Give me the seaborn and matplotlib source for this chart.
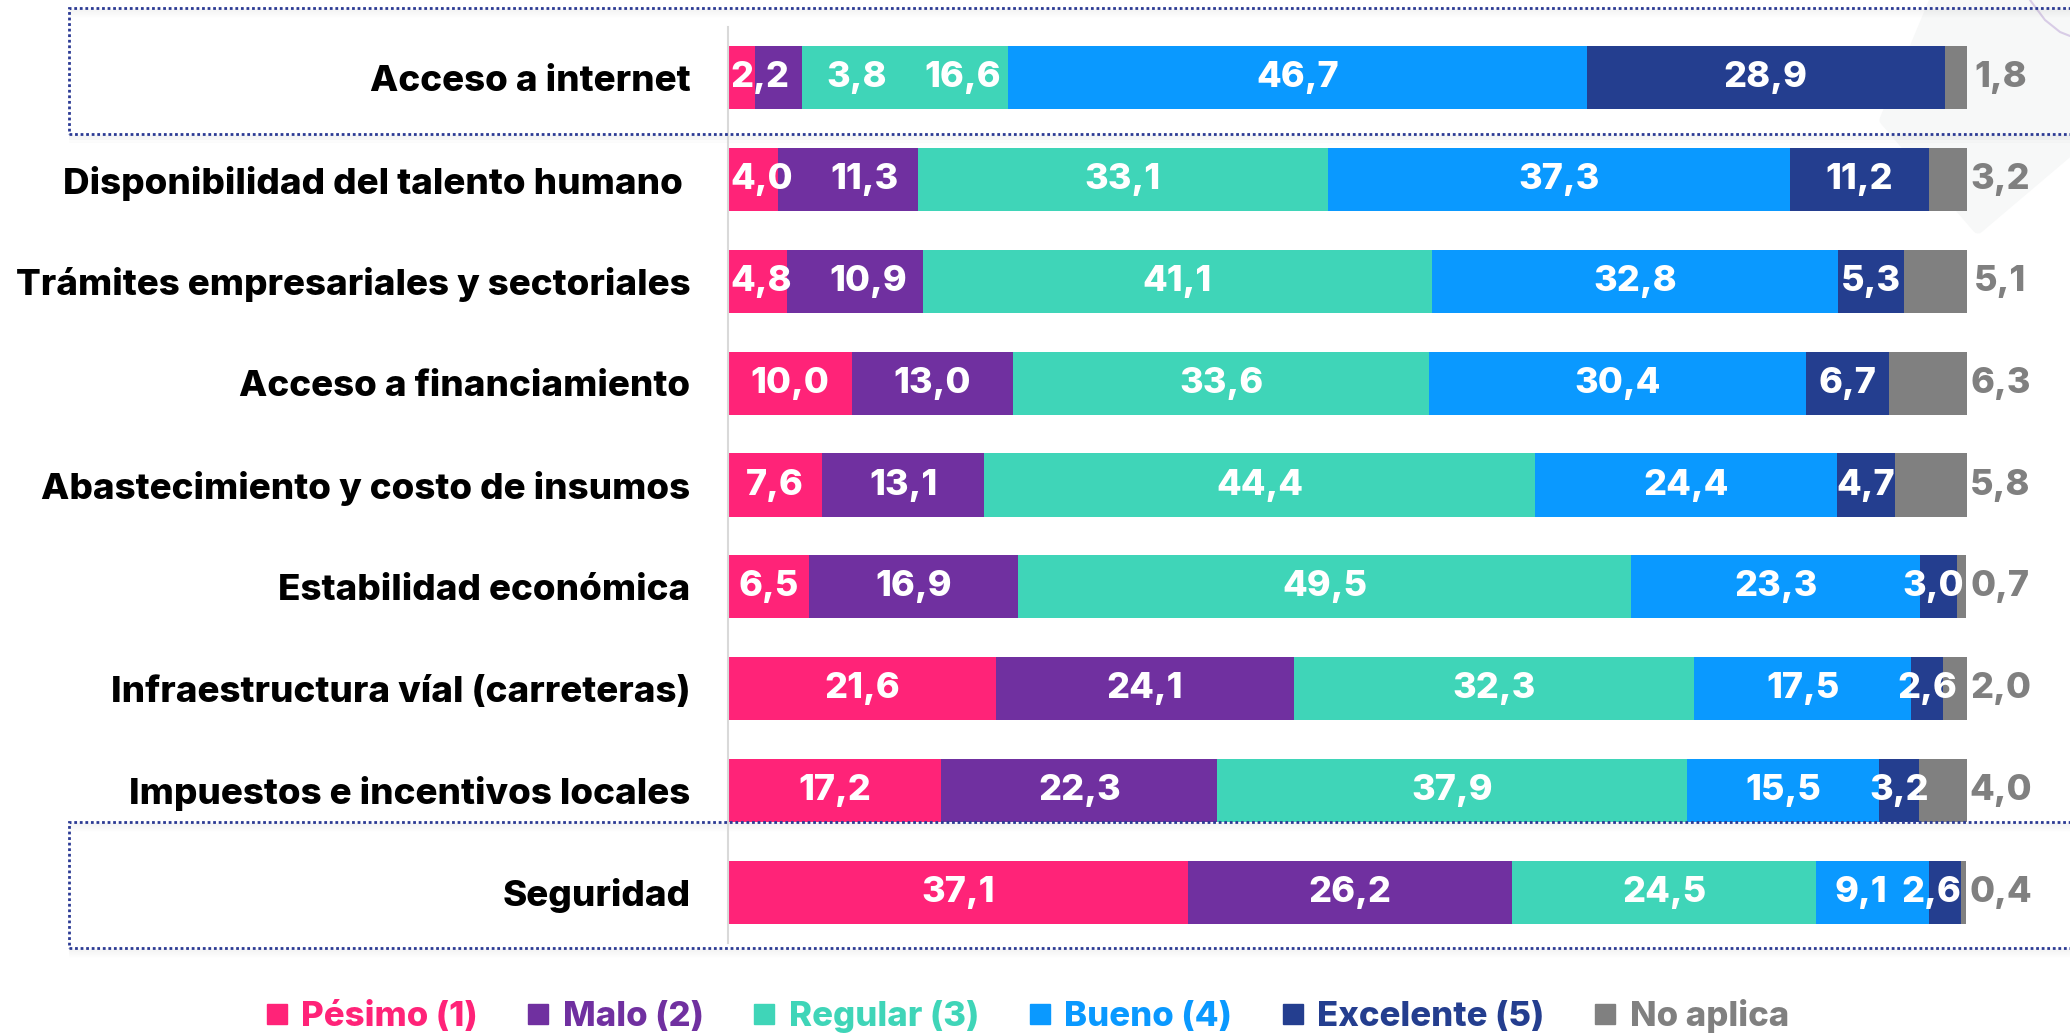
import numpy as np
import pandas as pd
import matplotlib
matplotlib.use('Agg')
import matplotlib.pyplot as plt
import seaborn as sns
from matplotlib.lines import Line2D
from matplotlib.patches import Rectangle, Polygon

# datos (porcentajes por categoria, de arriba hacia abajo)
categorias = ['Acceso a internet',
              'Disponibilidad del talento humano ',
              'Trámites empresariales y sectoriales',
              'Acceso a financiamiento',
              'Abastecimiento y costo de insumos',
              'Estabilidad económica',
              'Infraestructura víal (carreteras)',
              'Impuestos e incentivos locales',
              'Seguridad']
pesimo = [2.2, 4.0, 4.8, 10.0, 7.6, 6.5, 21.6, 17.2, 37.1]
malo = [3.8, 11.3, 10.9, 13.0, 13.1, 16.9, 24.1, 22.3, 26.2]
regular = [16.6, 33.1, 41.1, 33.6, 44.4, 49.5, 32.3, 37.9, 24.5]
bueno = [46.7, 37.3, 32.8, 30.4, 24.4, 23.3, 17.5, 15.5, 9.1]
excelente = [28.9, 11.2, 5.3, 6.7, 4.7, 3.0, 2.6, 3.2, 2.6]
no_aplica = [1.8, 3.2, 5.1, 6.3, 5.8, 0.7, 2.0, 4.0, 0.4]
series = ['Pésimo (1)', 'Malo (2)', 'Regular (3)', 'Bueno (4)', 'Excelente (5)', 'No aplica']
colores = ['#FF2378', '#7030A0', '#3FD5B8', '#0A99FF', '#243E8F', '#808080']
resaltadas = ['Acceso a internet', 'Seguridad']

FUENTE = 'Inter'

sns.set_style('white')
plt.rcParams['font.family'] = [FUENTE, 'DejaVu Sans']

vals = np.array([pesimo, malo, regular, bueno, excelente, no_aplica]).T
cum = np.cumsum(vals, axis=1)

fig = plt.figure(figsize=(20.7, 10.33), dpi=100)
W, H = 2070, 1033

# adorno gris claro arriba a la derecha
fig.patches.append(Polygon([(1935 / W, 1.0), (1885 / W, 1 - 120 / H), (1978 / W, 1 - 228 / H),
                            (1.0, 1 - 150 / H), (1.0, 1.0)], closed=True,
                           transform=fig.transFigure, facecolor='#f7f8f8', edgecolor='#f7f8f8',
                           linewidth=8, joinstyle='round', zorder=-5))
fig.add_artist(Line2D([2030 / W, 2045 / W, 2060 / W, 1.0],
                      [1.0, 1 - 20 / H, 1 - 32 / H, 1 - 36 / H],
                      color='#d8cce6', linewidth=1.5, zorder=-4))

ax = fig.add_axes([728 / W, 1 - 943 / H, (1967 - 728) / W, (943 - 27) / H])
ax.patch.set_alpha(0)

# barras apiladas: se dibujan los acumulados de mayor a menor
for k in range(5, -1, -1):
    sns.barplot(x=cum[:, k], y=categorias, color=colores[k], orient='h',
                width=0.62, saturation=1, linewidth=0, ax=ax)

ax.set_xlim(0, 100)
ax.set_ylim(len(categorias) - 0.5, -0.5)
ax.set_xticks([])
ax.set_xlabel('')
ax.set_ylabel('')
for s in ['top', 'right', 'bottom']:
    ax.spines[s].set_visible(False)
ax.spines['left'].set_color('#d9d9d9')
ax.spines['left'].set_linewidth(1.5)
ax.tick_params(axis='y', length=0, pad=27)
ax.set_yticks(range(len(categorias)))
ax.set_yticklabels(categorias, fontsize=26.5, fontweight='heavy', color='black')

# etiquetas de valores
fmt = lambda v: f'{v:.1f}'.replace('.', ',')
x_fuera = 102.7
filas = []
for i in range(len(categorias)):
    textos = []
    for k in range(5):
        c = cum[i, k] - vals[i, k] / 2
        t = ax.text(c, i, fmt(vals[i, k]), ha='center', va='center', color='white',
                    fontsize=26, fontweight='heavy', zorder=5, clip_on=False)
        textos.append(t)
    g = ax.text(x_fuera, i, fmt(vals[i, 5]), ha='center', va='center', color='#808080',
                fontsize=26, fontweight='heavy', zorder=5, clip_on=False)
    filas.append((textos, g))

# evitar que se monten las etiquetas
fig.canvas.draw()
r = fig.canvas.get_renderer()
px_unidad = ax.get_window_extent(r).width / 100.0
for i, (textos, g) in enumerate(filas):
    anchos = [t.get_window_extent(r).width / px_unidad for t in textos]
    xs = [cum[i, k] - vals[i, k] / 2 for k in range(5)]
    borde = 0.2
    for k in range(5):
        xs[k] = max(xs[k], borde + anchos[k] / 2)
        borde = xs[k] + anchos[k] / 2 + 3.0
    borde = x_fuera - g.get_window_extent(r).width / px_unidad / 2 - 0.6
    for k in range(4, -1, -1):
        xs[k] = min(xs[k], borde - anchos[k] / 2)
        borde = xs[k] - anchos[k] / 2 - 1.2
    for k in range(5):
        textos[k].set_x(xs[k])

# recuadros punteados de las filas resaltadas (con sombra suave)
for nombre in resaltadas:
    i = categorias.index(nombre)
    yc = 77.5 + i * 101.75
    arriba, abajo = yc - 70, yc + 56
    for yb in (arriba, abajo):
        for d in range(1, 10):
            fig.add_artist(Line2D([69 / W, 1.0], [1 - (yb + d) / H] * 2,
                                  color='black', alpha=0.012 * (10 - d) / 3,
                                  linewidth=1, zorder=0))
    fig.patches.append(Rectangle((69 / W, 1 - abajo / H), 1.0, (abajo - arriba) / H,
                                 transform=fig.transFigure, fill=False, edgecolor='#2B3A94',
                                 linewidth=2, linestyle=(0, (1, 1)), zorder=3))

# leyenda
handles = [Line2D([], [], marker='s', linestyle='', markersize=15,
                  markerfacecolor=c, markeredgecolor=c) for c in colores]
fig.legend(handles, series, loc='center', bbox_to_anchor=(0.496, 0.016), ncol=6,
           frameon=False, labelcolor=colores, handlelength=0.7, handletextpad=0.35,
           columnspacing=1.4, prop={'family': FUENTE, 'weight': 'heavy', 'size': 25})

fig.savefig('out.png', dpi=100)
